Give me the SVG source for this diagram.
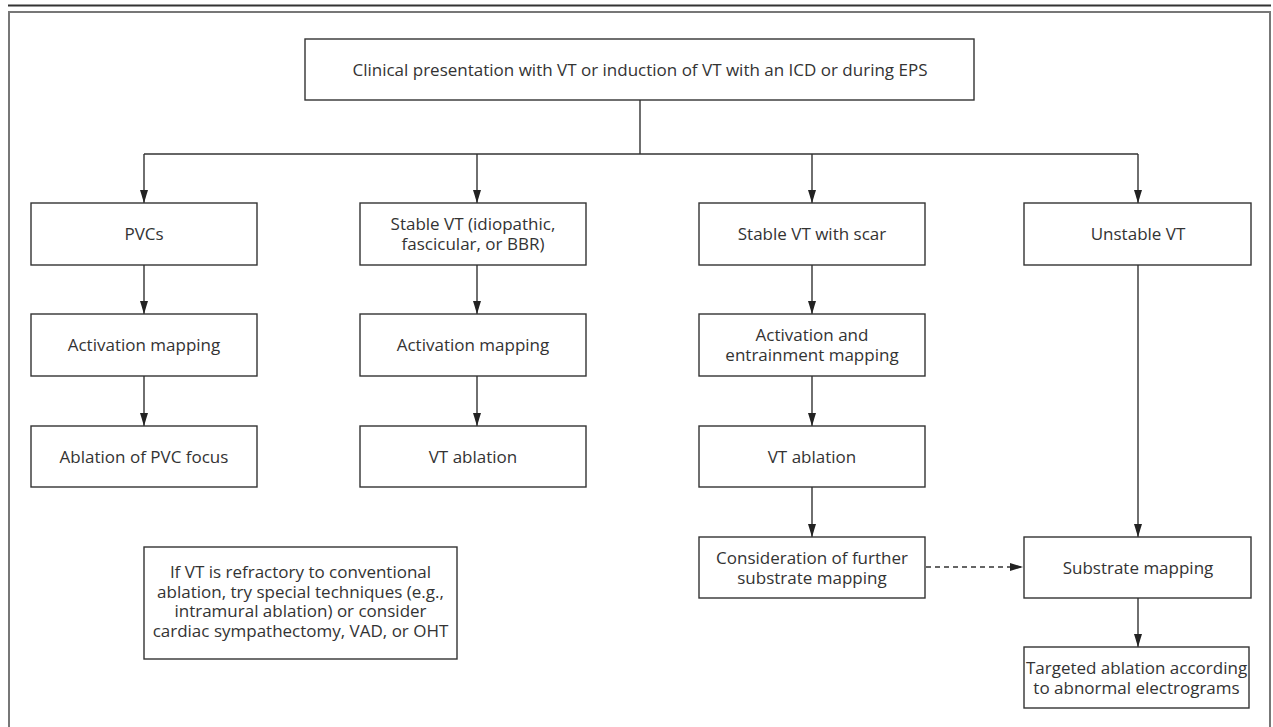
<svg xmlns="http://www.w3.org/2000/svg" width="1273" height="727" viewBox="0 0 1273 727">
<defs>
<style>
.box{fill:#fff;stroke:#333;stroke-width:1.4}
.t{font-family:"Open Sans","Noto Sans","Liberation Sans",sans-serif;font-size:17px;fill:#333;text-anchor:middle}
.c{fill:none;stroke:#333;stroke-width:1.4}
.d{fill:none;stroke:#333;stroke-width:1.4;stroke-dasharray:5 4}
</style>
<marker id="ah2" viewBox="0 0 13 8" refX="13" refY="4" markerWidth="13" markerHeight="8" orient="auto" markerUnits="userSpaceOnUse">
<path d="M0,0 L13,4 L0,8 Z" fill="#222"/>
</marker>
</defs>
<rect width="1273" height="727" fill="#fff"/>
<line x1="8" y1="5.5" x2="1271" y2="5.5" stroke="#333" stroke-width="2"/>
<rect x="9" y="12" width="1261" height="730" fill="none" stroke="#777" stroke-width="2"/>

<g id="connectors">
<polyline class="c" points="640,100 640,154"/>
<polyline class="c" points="144,154 1138,154"/>
<line class="c" x1="144" y1="154" x2="144" y2="203" marker-end="url(#ah2)"/>
<line class="c" x1="477" y1="154" x2="477" y2="203" marker-end="url(#ah2)"/>
<line class="c" x1="812" y1="154" x2="812" y2="203" marker-end="url(#ah2)"/>
<line class="c" x1="1138" y1="154" x2="1138" y2="203" marker-end="url(#ah2)"/>
<line class="c" x1="144" y1="265" x2="144" y2="314" marker-end="url(#ah2)"/>
<line class="c" x1="144" y1="376" x2="144" y2="426" marker-end="url(#ah2)"/>
<line class="c" x1="477" y1="265" x2="477" y2="314" marker-end="url(#ah2)"/>
<line class="c" x1="477" y1="376" x2="477" y2="426" marker-end="url(#ah2)"/>
<line class="c" x1="812" y1="265" x2="812" y2="314" marker-end="url(#ah2)"/>
<line class="c" x1="812" y1="376" x2="812" y2="426" marker-end="url(#ah2)"/>
<line class="c" x1="812" y1="487" x2="812" y2="537" marker-end="url(#ah2)"/>
<line class="c" x1="1138" y1="265" x2="1138" y2="537" marker-end="url(#ah2)"/>
<line class="c" x1="1138" y1="598" x2="1138" y2="647" marker-end="url(#ah2)"/>
<line class="d" x1="926" y1="567" x2="1023" y2="567" marker-end="url(#ah2)"/>
</g>

<g id="n-top"><rect class="box" x="305" y="39" width="669" height="61"/>
<text class="t" x="640" y="75.5">Clinical presentation with VT or induction of VT with an ICD or during EPS</text></g>

<g id="n-pvcs"><rect class="box" x="31" y="203" width="226" height="62"/>
<text class="t" x="144" y="240">PVCs</text></g>
<g id="n-stable"><rect class="box" x="360" y="203" width="226" height="62"/>
<text class="t" x="473" y="230">Stable VT (idiopathic,</text>
<text class="t" x="473" y="250">fascicular, or BBR)</text></g>
<g id="n-scar"><rect class="box" x="699" y="203" width="226" height="62"/>
<text class="t" x="812" y="240">Stable VT with scar</text></g>
<g id="n-unstable"><rect class="box" x="1024" y="203" width="227" height="62"/>
<text class="t" x="1138" y="240">Unstable VT</text></g>

<g id="n-act1"><rect class="box" x="31" y="314" width="226" height="62"/>
<text class="t" x="144" y="351">Activation mapping</text></g>
<g id="n-act2"><rect class="box" x="360" y="314" width="226" height="62"/>
<text class="t" x="473" y="351">Activation mapping</text></g>
<g id="n-act3"><rect class="box" x="699" y="314" width="226" height="62"/>
<text class="t" x="812" y="341">Activation and</text>
<text class="t" x="812" y="361">entrainment mapping</text></g>

<g id="n-abl1"><rect class="box" x="31" y="426" width="226" height="61"/>
<text class="t" x="144" y="462.5">Ablation of PVC focus</text></g>
<g id="n-abl2"><rect class="box" x="360" y="426" width="226" height="61"/>
<text class="t" x="473" y="462.5">VT ablation</text></g>
<g id="n-abl3"><rect class="box" x="699" y="426" width="226" height="61"/>
<text class="t" x="812" y="462.5">VT ablation</text></g>

<g id="n-consider"><rect class="box" x="699" y="537" width="226" height="61"/>
<text class="t" x="812" y="563.5">Consideration of further</text>
<text class="t" x="812" y="583.5">substrate mapping</text></g>
<g id="n-substrate"><rect class="box" x="1024" y="537" width="227" height="61"/>
<text class="t" x="1138" y="573.5">Substrate mapping</text></g>
<g id="n-targeted"><rect class="box" x="1024" y="647" width="225" height="61"/>
<text class="t" x="1136.5" y="673.5">Targeted ablation according</text>
<text class="t" x="1136.5" y="693.5">to abnormal electrograms</text></g>

<g id="n-note"><rect class="box" x="144" y="547" width="313" height="112"/>
<text class="t" x="300.5" y="578">If VT is refractory to conventional</text>
<text class="t" x="300.5" y="597.5">ablation, try special techniques (e.g.,</text>
<text class="t" x="300.5" y="617">intramural ablation) or consider</text>
<text class="t" x="300.5" y="636.5">cardiac sympathectomy, VAD, or OHT</text></g>
</svg>
